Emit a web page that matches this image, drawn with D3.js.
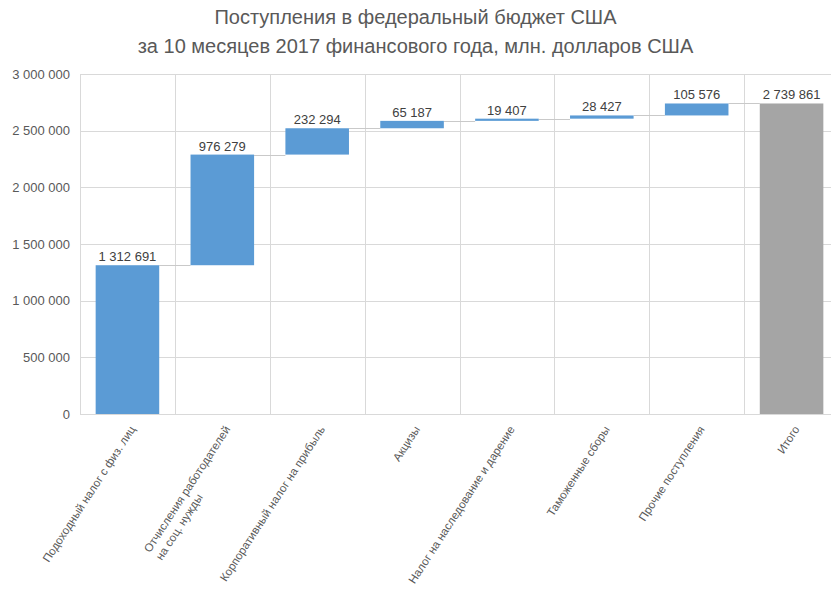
<!DOCTYPE html>
<html>
<head>
<meta charset="utf-8">
<script src="https://cdn.jsdelivr.net/npm/d3@7"></script>
<style>
  body { margin: 0; background: #fff; }
  text { font-family: "Liberation Sans", Arial, sans-serif; }
</style>
</head>
<body>
<div id="viz"></div>
<script>
// data
const categories = [
  ['Подоходный налог с физ. лиц'],
  ['Отчисления работодателей', 'на соц. нужды'],
  ['Корпоративный налог на прибыль'],
  ['Акцизы'],
  ['Налог на наследование и дарение'],
  ['Таможенные сборы'],
  ['Прочие поступления'],
  ['Итого']
];
const values = [1312691, 976279, 232294, 65187, 19407, 28427, 105576];
const total = 2739861;
const yTicks = [0, 500000, 1000000, 1500000, 2000000, 2500000, 3000000];
const titleLines = [
  'Поступления в федеральный бюджет США',
  'за 10 месяцев 2017 финансового года, млн. долларов США'
];

const width = 831;
const height = 591;
const margin = { top: 74, right: -8, bottom: 177, left: 80 };

let blue = '#5B9BD5';
let grey = '#A5A5A5';
let gridColor = '#D9D9D9';

// build waterfall steps
let steps = [];
let run = 0;
values.forEach((v, i) => {
  steps.push({ i: i, start: run, end: run + v, value: v, total: false });
  run += v;
});
steps.push({ i: values.length, start: 0, end: total, value: total, total: true });

let svg = d3
  .select('#viz')
  .append('svg')
  .attr('width', width)
  .attr('height', height);

let x = d3
  .scaleBand()
  .domain(d3.range(categories.length))
  .range([margin.left, width - margin.right])
  .paddingInner(0.33)
  .paddingOuter(0.165);

let step = x.step();
let x0 = margin.left;

let y = d3
  .scaleLinear()
  .domain([0, 3000000])
  .range([height - margin.bottom, margin.top]);

// title
svg
  .append('g')
  .selectAll('text')
  .data(titleLines)
  .enter()
  .append('text')
  .attr('x', width / 2)
  .attr('y', (d, i) => 24 + i * 29)
  .attr('text-anchor', 'middle')
  .attr('font-size', '20px')
  .attr('fill', '#595959')
  .text((d) => d);

// gridlines
let grid = svg.append('g');
grid
  .selectAll('line.h')
  .data(yTicks)
  .enter()
  .append('line')
  .attr('x1', x0)
  .attr('x2', width - margin.right)
  .attr('y1', (d) => Math.round(y(d)) + 0.5)
  .attr('y2', (d) => Math.round(y(d)) + 0.5)
  .attr('stroke', gridColor)
  .attr('stroke-width', 1);

grid
  .selectAll('line.v')
  .data(d3.range(categories.length + 1))
  .enter()
  .append('line')
  .attr('x1', (d) => Math.round(x0 + d * step) + 0.5)
  .attr('x2', (d) => Math.round(x0 + d * step) + 0.5)
  .attr('y1', y(3000000))
  .attr('y2', y(0))
  .attr('stroke', gridColor)
  .attr('stroke-width', 1);

// y axis labels
svg
  .append('g')
  .selectAll('text')
  .data(yTicks)
  .enter()
  .append('text')
  .attr('x', 70)
  .attr('y', (d) => y(d))
  .attr('dy', '0.35em')
  .attr('text-anchor', 'end')
  .attr('font-size', '13px')
  .attr('fill', '#595959')
  .text((d) => d3.format(',')(d).replace(/,/g, ' '));

// connectors
svg
  .append('g')
  .selectAll('line')
  .data(steps.slice(0, -1))
  .enter()
  .append('line')
  .attr('x1', (d) => x(d.i) + x.bandwidth())
  .attr('x2', (d) => x(d.i + 1))
  .attr('y1', (d) => Math.round(y(d.end)) + 0.5)
  .attr('y2', (d) => Math.round(y(d.end)) + 0.5)
  .attr('stroke', '#C9C9C9')
  .attr('stroke-width', 1);

// bars
svg
  .append('g')
  .selectAll('rect')
  .data(steps)
  .enter()
  .append('rect')
  .attr('x', (d) => x(d.i))
  .attr('width', x.bandwidth())
  .attr('y', (d) => y(d.end))
  .attr('height', (d) => y(d.start) - y(d.end))
  .attr('fill', (d) => (d.total ? grey : blue));

// value labels
svg
  .append('g')
  .selectAll('text')
  .data(steps)
  .enter()
  .append('text')
  .attr('x', (d) => x(d.i) + x.bandwidth() / 2)
  .attr('y', (d) => y(d.end) - 4)
  .attr('text-anchor', 'middle')
  .attr('font-size', '13px')
  .attr('fill', '#404040')
  .text((d) => d3.format(',')(d.value).replace(/,/g, ' '));

// x labels (rotated)
let xl = svg
  .append('g')
  .selectAll('g')
  .data(categories)
  .enter()
  .append('g')
  .attr('transform', (d, i) => {
    let cx = x(i) + x.bandwidth() / 2 + 5;
    return 'translate(' + cx + ',' + 427 + ') rotate(-57)';
  });

xl.each(function (lines) {
  let g = d3.select(this);
  let first = g
    .append('text')
    .attr('x', 0)
    .attr('y', 0)
    .attr('dy', '0.35em')
    .attr('text-anchor', 'end')
    .attr('font-size', '11.5px')
    .attr('fill', '#595959')
    .text(lines[0]);
  let w = first.node().getComputedTextLength();
  for (let k = 1; k < lines.length; k++) {
    g.append('text')
      .attr('x', -w)
      .attr('y', k * 14)
      .attr('dy', '0.35em')
      .attr('text-anchor', 'start')
      .attr('font-size', '11.5px')
      .attr('fill', '#595959')
      .text(lines[k]);
  }
});
</script>
</body>
</html>
